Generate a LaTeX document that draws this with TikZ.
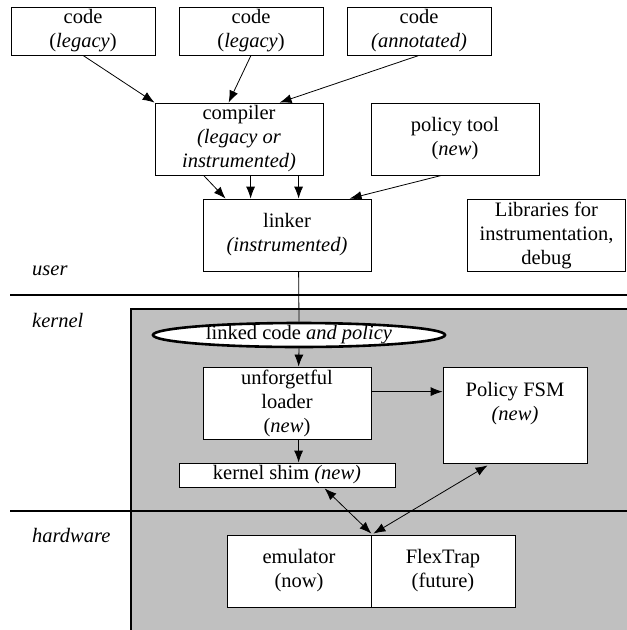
\documentclass[tikz,border=0pt]{standalone}
\usepackage{fontspec}
\setmainfont{Liberation Serif}
\usetikzlibrary{arrows.meta,shapes.geometric,calc}
\definecolor{bggray}{HTML}{C0C0C0}
\begin{document}
\begin{tikzpicture}[x=1pt,y=-1pt,
  txt/.style={font=\rmfamily\fontsize{20.5}{24}\selectfont},
  box/.style={draw,fill=white,inner sep=0pt,align=center,txt,line width=0.8pt},
  plain/.style={inner sep=0pt,align=center,txt},
  arr/.style={-{Latex[length=12pt,width=9pt]},line width=0.8pt},
  darr/.style={{Latex[length=12pt,width=9pt]}-{Latex[length=12pt,width=9pt]},line width=0.8pt},
  lbl/.style={font=\rmfamily\fontsize{20.5}{24}\selectfont\itshape,anchor=west,inner sep=0pt},
  sepline/.style={line width=2pt}]
\useasboundingbox (0,0) rectangle (627,630);
% gray kernel/hardware area
\filldraw[fill=bggray,line width=2.5pt] (131,309) rectangle (660,660);
% separators
\draw[sepline] (10,295) -- (640,295);
\draw[sepline] (10,511) -- (640,511);
% layer labels
\node[lbl] (user) at (32,271) {user};
\node[lbl] (kernel) at (32,320) {kernel};
\node[lbl] (hardware) at (32,535) {hardware};
% user nodes
\node[box,minimum width=144pt,minimum height=48pt] (code1) at (83,31) {code\\(\textit{legacy})};
\node[box,minimum width=144pt,minimum height=48pt] (code2) at (251,31) {code\\(\textit{legacy})};
\node[box,minimum width=144pt,minimum height=48pt] (code3) at (419,31) {code\\\textit{(annotated)}};
\node[box,minimum width=168pt,minimum height=72pt] (compiler) at (239,139) {compiler\\\textit{(legacy or}\\\textit{instrumented)}};
\node[box,minimum width=168pt,minimum height=72pt] (policy) at (455,139) {policy tool\\(\textit{new})};
\node[box,minimum width=168pt,minimum height=72pt] (linker) at (287,235) {linker\\\textit{(instrumented)}};
\node[box,minimum width=158pt,minimum height=72pt] (libs) at (546.5,235) {Libraries for\\instrumentation,\\debug};
% kernel nodes
\node[ellipse,draw,fill=white,line width=2.6pt,inner sep=0pt,minimum width=292pt,minimum height=24pt] (linked) at (299,335) {};
\node[plain] (linkedtext) at (linked.center) {linked code \textit{and policy}};
\node[box,minimum width=168pt,minimum height=72pt] (loader) at (287,403) {unforgetful\\loader\\(\textit{new})};
\node[box,minimum width=144pt,minimum height=96pt] (fsm) at (515,415) {};
\node[plain] (fsmtext) at (515,404) {Policy FSM\\\textit{(new)}};
\node[box,minimum width=216pt,minimum height=24pt] (shim) at (287,475) {kernel shim \textit{(new)}};
% hardware nodes
\node[box,minimum width=144pt,minimum height=72pt] (emu) at (299,571) {emulator\\(now)};
\node[box,minimum width=144pt,minimum height=72pt] (flex) at (443,571) {FlexTrap\\(future)};
% connectors
\draw[arr] (code1.south) -- (compiler.north west);
\draw[arr] (code2.south) -- ($(compiler.north west)+(74,0)$);
\draw[arr] (code3.south) -- ($(compiler.north west)+(125,0)$);
\draw[arr] ($(compiler.south west)+(49,0)$) -- ($(linker.north west)+(23,0)$);
\draw[arr] ($(compiler.south west)+(96,0)$) -- ($(linker.north west)+(48,0)$);
\draw[arr] ($(compiler.south west)+(144,0)$) -- ($(linker.north west)+(96,0)$);
\draw[arr] ($(policy.south west)+(71,0)$) -- ($(linker.north west)+(147,0)$);
\draw[line width=0.8pt] ($(linker.south west)+(96,0)$) -- (linked.north);
\draw[arr] (linked.south) -- ($(loader.north west)+(96,0)$);
\draw[arr] ($(loader.north east)+(0,25)$) -- ($(fsm.north west)+(0,25)$);
\draw[arr] ($(loader.south west)+(96,0)$) -- ($(shim.north west)+(120,0)$);
\draw[darr] ($(shim.south west)+(146,1)$) -- ($(emu.north east)+(0,-1)$);
\draw[darr] ($(fsm.south west)+(45,2)$) -- ($(emu.north east)+(2,-1)$);
\end{tikzpicture}
\end{document}
